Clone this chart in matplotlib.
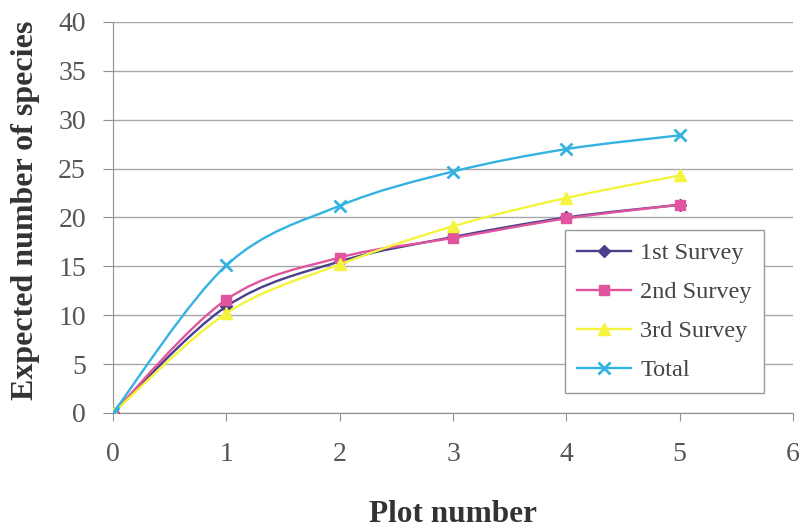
import matplotlib as mpl
mpl.use('Agg')
from matplotlib import pyplot as plt
from matplotlib.path import Path
from matplotlib.patches import PathPatch
from matplotlib.lines import Line2D

plots = [0, 1, 2, 3, 4, 5]
survey1 = [0, 10.9, 15.5, 18.0, 20.0, 21.3]
survey2 = [0, 11.6, 15.9, 17.9, 19.9, 21.3]
survey3 = [0, 10.2, 15.2, 19.1, 22.0, 24.3]
total = [0, 15.1, 21.2, 24.7, 27.0, 28.4]

names = ['1st Survey', '2nd Survey', '3rd Survey', 'Total']
colors = ['#4a3f8a', '#e0559e', '#f4f43c', '#33b3e2']
markers = ['D', 's', '^', 'x']
msizes = [6, 7, 8, 8]

plt.rcParams['font.family'] = ['Liberation Serif', 'DejaVu Serif']


def smooth_path(x, y):
    # excel-like smoothed line: cubic bezier through each point
    n = len(x)
    verts = [(x[0], y[0])]
    codes = [Path.MOVETO]
    for i in range(n - 1):
        x0, y0 = (x[i - 1], y[i - 1]) if i > 0 else (x[i], y[i])
        x3, y3 = (x[i + 2], y[i + 2]) if i + 2 < n else (x[i + 1], y[i + 1])
        c1 = (x[i] + (x[i + 1] - x0) / 6, y[i] + (y[i + 1] - y0) / 6)
        c2 = (x[i + 1] - (x3 - x[i]) / 6, y[i + 1] - (y3 - y[i]) / 6)
        verts += [c1, c2, (x[i + 1], y[i + 1])]
        codes += [Path.CURVE4] * 3
    return Path(verts, codes)


fig = plt.figure(figsize=(8.02, 5.32), dpi=100)
ax = fig.add_axes([0.1409, 0.2237, 0.848, 0.735])

handles = []
for k, ys in enumerate([survey1, survey2, survey3, total]):
    ax.add_patch(PathPatch(smooth_path(plots, ys), fill=False,
                           edgecolor=colors[k], lw=1.7, zorder=3 + k))
    if markers[k] == 'x':
        ax.plot(plots, ys, linestyle='none', marker='x', ms=msizes[k],
                mew=2, color=colors[k], zorder=3 + k)
    else:
        ax.plot(plots, ys, linestyle='none', marker=markers[k], ms=msizes[k],
                color=colors[k], mec=colors[k], zorder=3 + k)
    handles.append(Line2D([], [], color=colors[k], lw=1.7, marker=markers[k],
                          ms=msizes[k], mew=2 if markers[k] == 'x' else 1))

ax.set_xlim(0, 6)
ax.set_ylim(0, 40)
ax.set_xticks(range(0, 7))
ax.set_yticks(range(0, 41, 5))
ax.yaxis.grid(True, color='#a8a8a8', lw=1)
ax.set_axisbelow(True)
for s in ['top', 'right']:
    ax.spines[s].set_visible(False)
ax.spines['left'].set_color('#909090')
ax.spines['bottom'].set_color('#909090')
ax.tick_params(axis='both', colors='#909090', labelcolor='#555555',
               labelsize=20, length=7)
ax.tick_params(axis='x', pad=15, length=6)
ax.tick_params(axis='y', pad=12.5)

ax.set_xlabel('Plot number', fontsize=22.5, fontweight='bold', color='#333333',
              labelpad=24)
ax.set_ylabel('Expected number of species', fontsize=23, fontweight='bold',
              color='#333333')
ax.yaxis.set_label_coords(-0.107, 0.519)

leg = fig.legend(handles, names, loc='upper left',
                 bbox_to_anchor=(565 / 802, 1 - 230 / 532),
                 bbox_transform=fig.transFigure, borderaxespad=0,
                 fontsize=17.5, frameon=True, fancybox=False,
                 edgecolor='#999999', framealpha=1,
                 handlelength=2.2, handletextpad=0.4, labelspacing=0.7,
                 borderpad=0.5)
for t in leg.get_texts():
    t.set_color('#444444')

plt.savefig('out.png', dpi=100)
